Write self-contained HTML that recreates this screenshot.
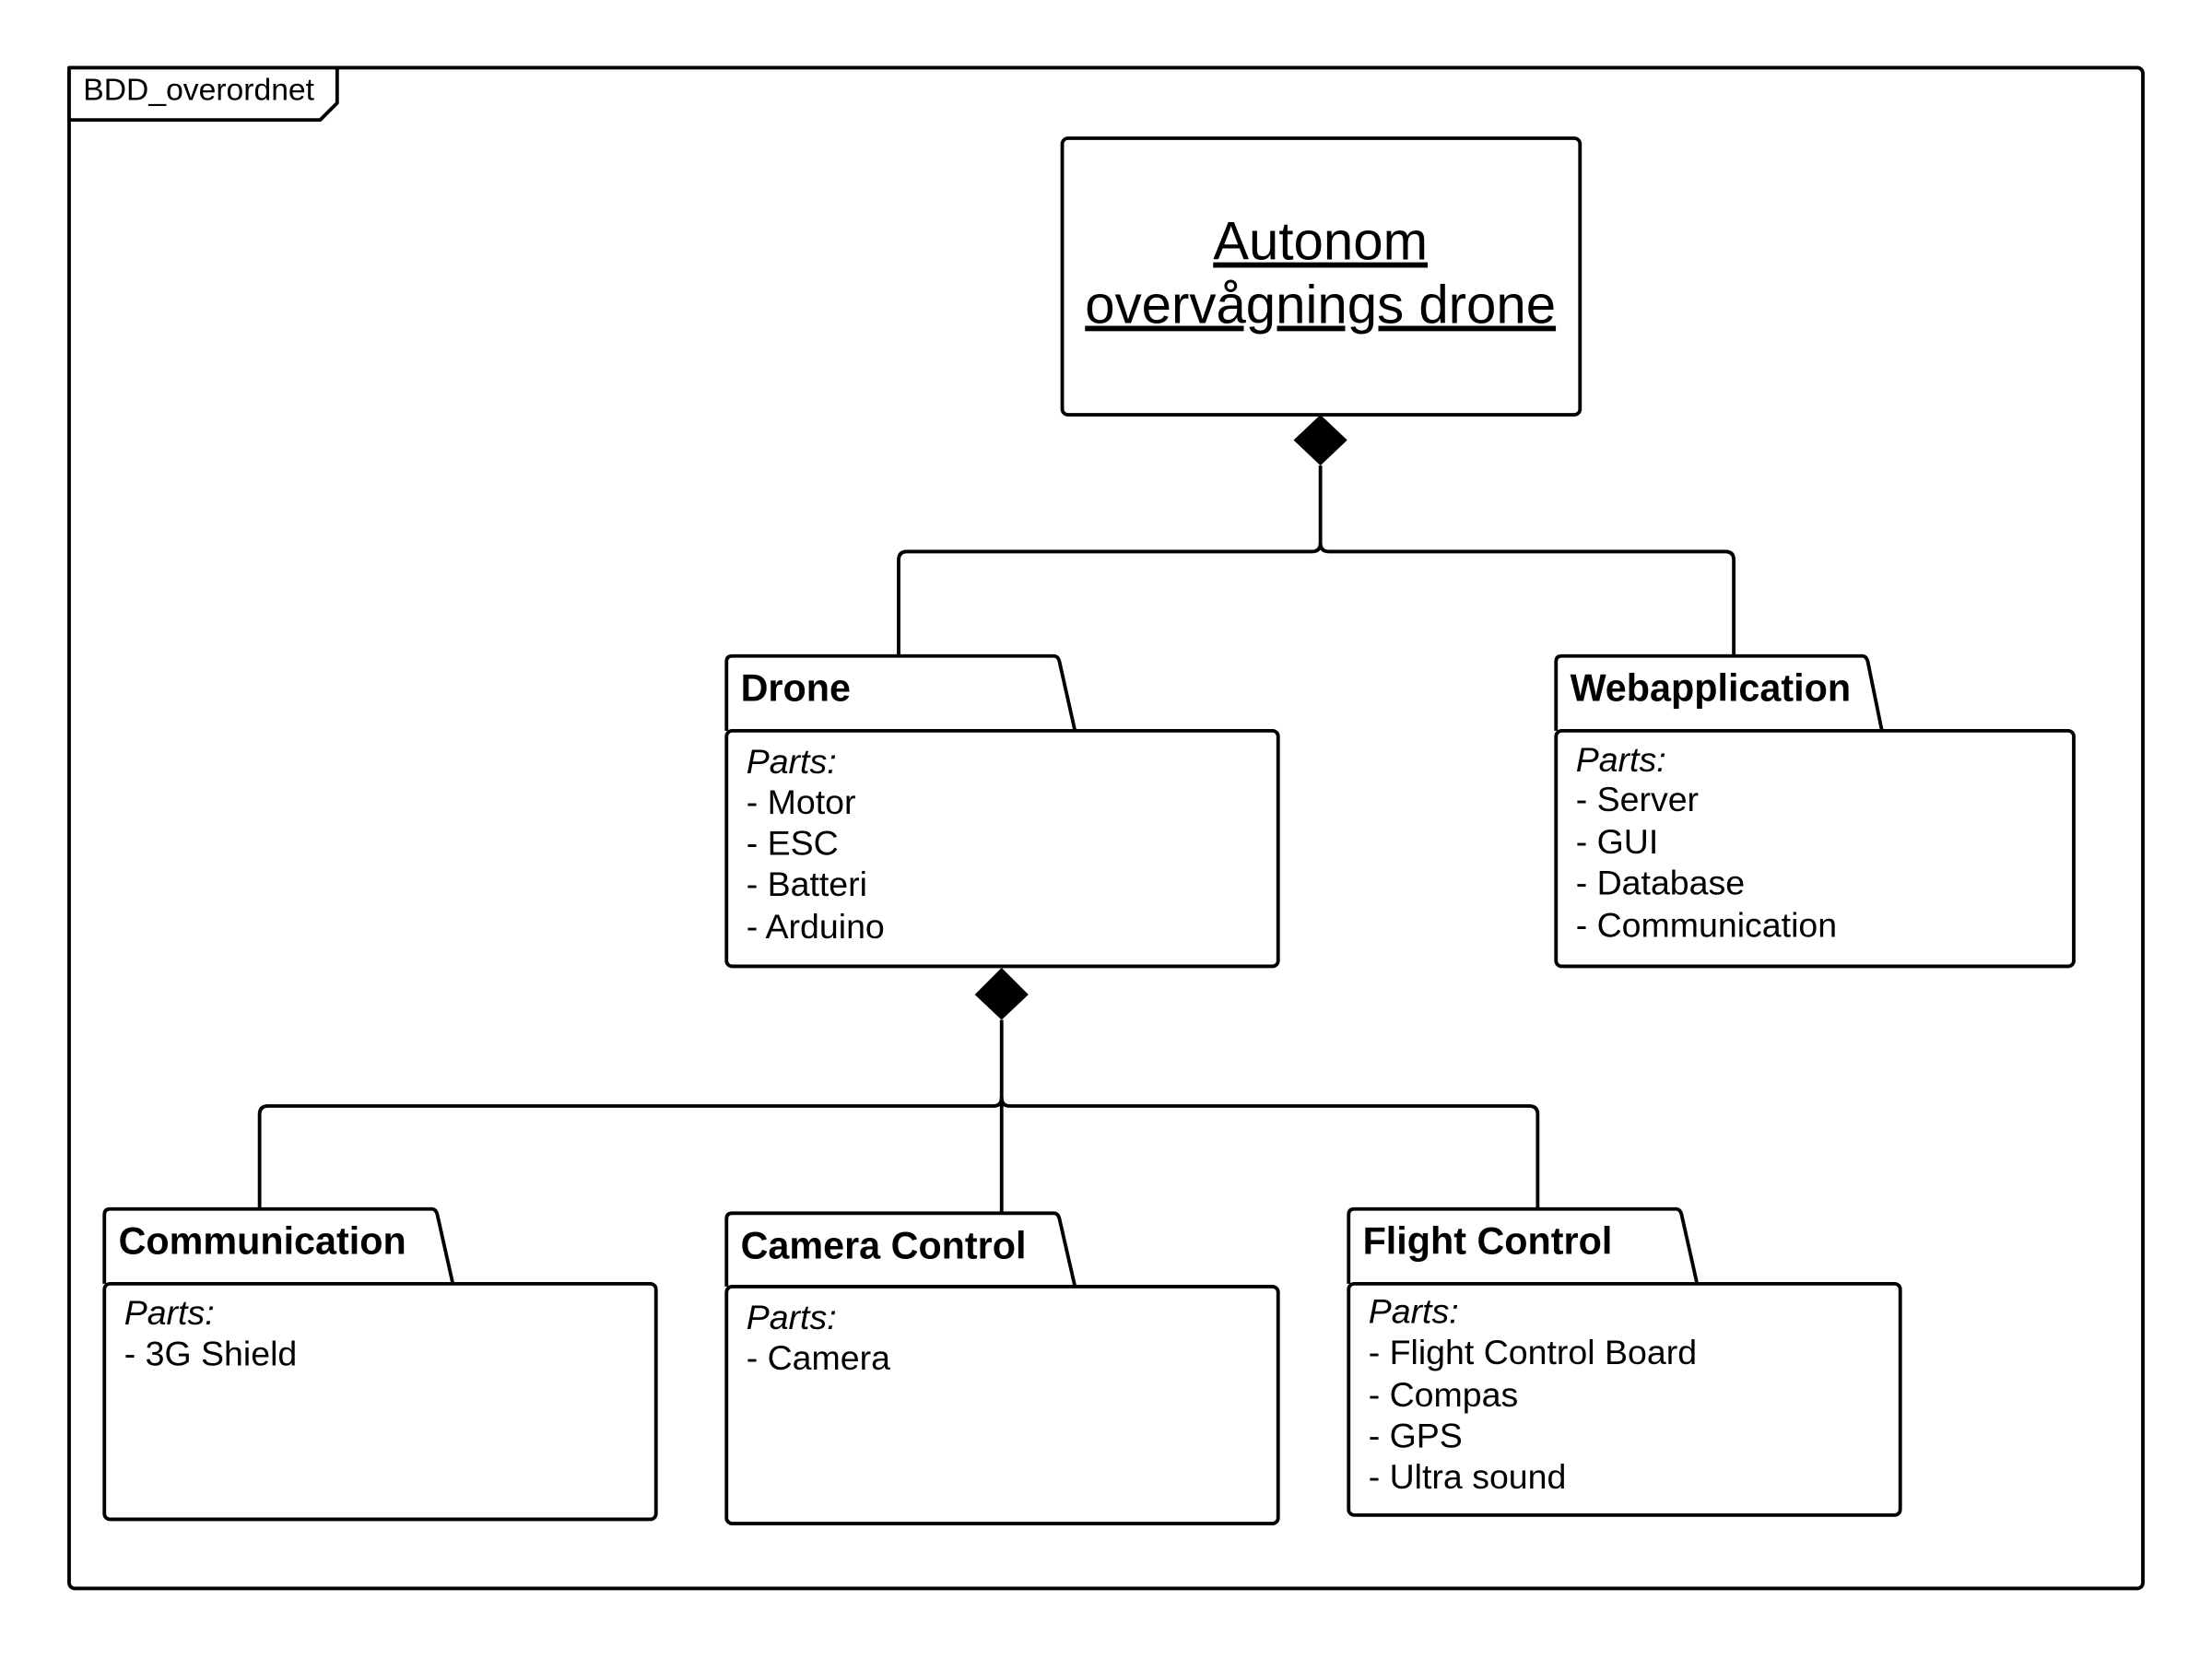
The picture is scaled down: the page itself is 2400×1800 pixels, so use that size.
<!DOCTYPE html>
<html><head><meta charset="utf-8"><style>
html,body{margin:0;padding:0;background:#fff;}
svg{display:block;}
text{font-family:"Liberation Sans",sans-serif;fill:#000;}
.t{font-weight:bold;font-size:27px;}
.p{font-size:24.5px;}
.i{font-style:italic;}
</style></head><body>
<svg width="2400" height="1800" viewBox="0 0 1568 1176" xmlns="http://www.w3.org/2000/svg">
<g fill="none" stroke="#000" stroke-width="2.5" stroke-linejoin="round">
<rect x="49" y="48" width="1470" height="1078" rx="4"/>
<polygon points="49,48 239,48 239,73 227,85 49,85" fill="#fff"/>
<rect x="753" y="98" width="367" height="196" rx="4"/>
<path d="M936,330 V385 Q936,391 930,391 H643 Q637,391 637,397 V465"/>
<path d="M936,385 Q936,391 942,391 H1223 Q1229,391 1229,397 V465"/>
<path d="M710,723 V860"/>
<path d="M710,778 Q710,784 704,784 H190 Q184,784 184,790 V857"/>
<path d="M710,778 Q710,784 716,784 H1084 Q1090,784 1090,790 V857"/>
<path d="M515,518 V469 Q515,465 519,465 H747 Q750,465 751,469 L762,518"/>
<rect x="515" y="518" width="391" height="167" rx="4"/>
<path d="M1103,518 V469 Q1103,465 1107,465 H1320 Q1323,465 1324,469 L1334,518"/>
<rect x="1103" y="518" width="367" height="167" rx="4"/>
<path d="M74,910 V861 Q74,857 78,857 H306 Q309,857 310,861 L321,910"/>
<rect x="74" y="910" width="391" height="167" rx="4"/>
<path d="M515,912 V864 Q515,860 519,860 H747 Q750,860 751,864 L762,912"/>
<rect x="515" y="912" width="391" height="168" rx="4"/>
<path d="M956,910 V861 Q956,857 960,857 H1188 Q1191,857 1192,861 L1203,910"/>
<rect x="956" y="910" width="391" height="164" rx="4"/>
</g>
<polygon points="936,294 955,312 936,330 917,312" fill="#000"/>
<polygon points="710,686 729,705 710,723 691,705" fill="#000"/>
<text x="59" y="71" font-size="22">BDD_overordnet</text>
<text x="936" y="184" font-size="38" text-anchor="middle" text-decoration="underline">Autonom</text>
<text x="936" y="229" font-size="38" text-anchor="middle" text-decoration="underline">overvågnings drone</text>

<text class="t" x="525" y="497">Drone</text>
<text class="p i" x="529" y="548">Parts:</text>
<text class="p" x="529" y="577">- Motor</text>
<text class="p" x="529" y="606">- ESC</text>
<text class="p" x="529" y="635">- Batteri</text>
<text class="p" x="529" y="665">- Arduino</text>

<text class="t" x="1113" y="497">Webapplication</text>
<text class="p i" x="1117" y="547">Parts:</text>
<text class="p" x="1117" y="575">- Server</text>
<text class="p" x="1117" y="605">- GUI</text>
<text class="p" x="1117" y="634">- Database</text>
<text class="p" x="1117" y="664">- Communication</text>

<text class="t" x="84" y="889">Communication</text>
<text class="p i" x="88" y="939">Parts:</text>
<text class="p" x="88" y="968">- 3G Shield</text>

<text class="t" x="525" y="892">Camera Control</text>
<text class="p i" x="529" y="942">Parts:</text>
<text class="p" x="529" y="971">- Camera</text>

<text class="t" x="966" y="889">Flight Control</text>
<text class="p i" x="970" y="938">Parts:</text>
<text class="p" x="970" y="967">- Flight Control Board</text>
<text class="p" x="970" y="997">- Compas</text>
<text class="p" x="970" y="1026">- GPS</text>
<text class="p" x="970" y="1055">- Ultra sound</text>
</svg>
</body></html>
